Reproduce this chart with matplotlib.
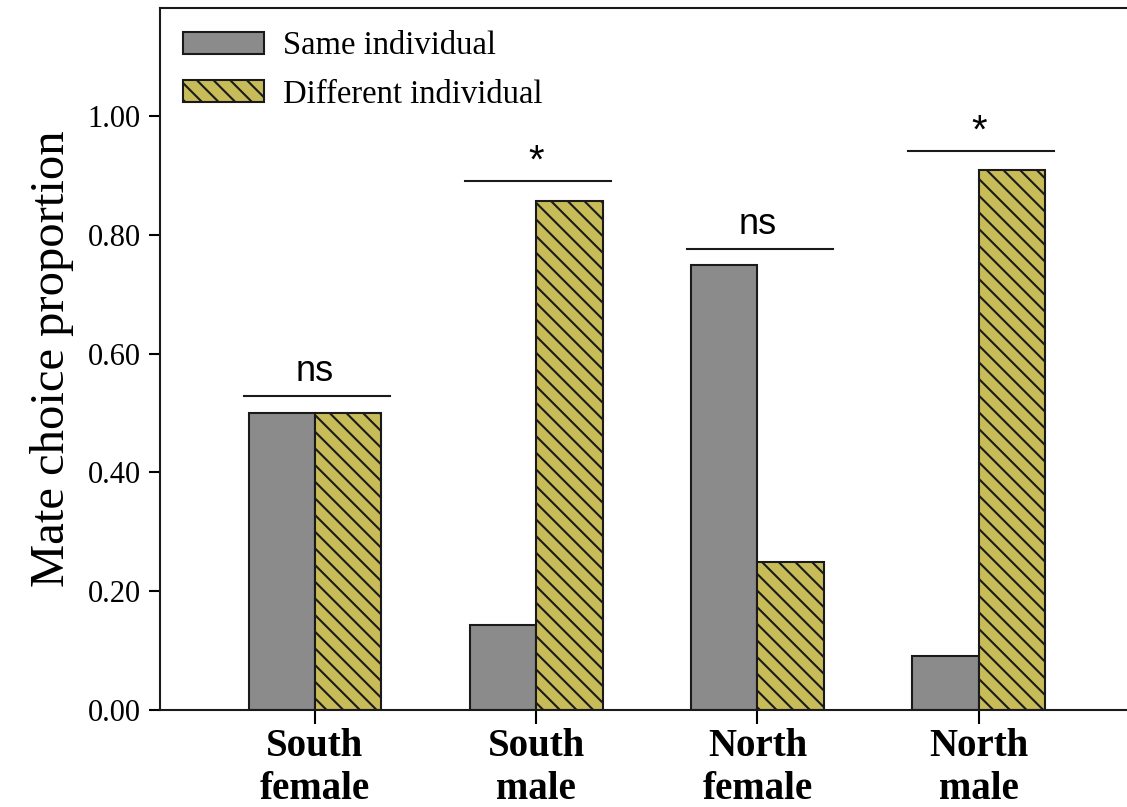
import numpy as np
import matplotlib.pyplot as plt
from matplotlib.patches import Patch

# Data
groups = ["South\nfemale", "South\nmale", "North\nfemale", "North\nmale"]
same_individual = [0.50, 0.143, 0.75, 0.091]
different_individual = [0.50, 0.857, 0.25, 0.909]
sig_labels = ["ns", "*", "ns", "*"]
sig_heights = [0.529, 0.891, 0.776, 0.941]

gray = "#8a8b8a"
olive = "#c7bc57"

plt.rcParams["hatch.linewidth"] = 1.5
plt.rcParams["font.family"] = ["Liberation Serif", "DejaVu Serif"]

fig = plt.figure(figsize=(11.27, 8.07), dpi=100)
ax = fig.add_axes([160 / 1127, 1 - 710 / 807, (1127 - 160) / 1127, 702 / 807])

x = np.arange(len(groups))
w = 0.30
ax.bar(x - w / 2, same_individual, w, color=gray, edgecolor="#1a1a1a", linewidth=1.5)
ax.bar(x + w / 2, different_individual, w, color=olive, edgecolor="#1a1a1a",
       linewidth=1.5, hatch="\\\\")

for xi, lab, h in zip(x, sig_labels, sig_heights):
    ax.plot([xi - 0.32, xi + 0.34], [h, h], color="#1a1a1a", linewidth=1.5)
    if lab == "*":
        ax.text(xi, h + 0.0, lab, ha="center", va="bottom", fontsize=29,
                family="Liberation Sans")
    else:
        ax.text(xi, h + 0.012, lab, ha="center", va="bottom", fontsize=26,
                family="Liberation Sans")

ax.set_xlim(-0.70, 3.67)
ax.set_ylim(0, 1.182)
ax.set_yticks([0, 0.2, 0.4, 0.6, 0.8, 1.0])
ax.set_yticklabels([f"{v:.2f}" for v in [0, 0.2, 0.4, 0.6, 0.8, 1.0]], fontsize=22)
ax.set_xticks(x)
ax.set_xticklabels(groups, fontsize=28, fontweight="bold", linespacing=1.22)
ax.tick_params(axis="y", direction="out", length=8, width=1.5, pad=6)
ax.tick_params(axis="x", direction="out", length=10, width=1.5, pad=3)
ax.set_ylabel("Mate choice proportion", fontsize=35, labelpad=10)

for side in ["left", "top", "bottom"]:
    ax.spines[side].set_linewidth(1.5)
    ax.spines[side].set_color("#1a1a1a")
ax.spines["right"].set_visible(False)

handles = [Patch(facecolor=gray, edgecolor="#1a1a1a", linewidth=1.5),
           Patch(facecolor=olive, edgecolor="#1a1a1a", linewidth=1.5, hatch="\\\\")]
ax.legend(handles, ["Same individual", "Different individual"], loc="upper left",
          bbox_to_anchor=(0.0, 1.0), frameon=False, fontsize=23.5,
          handlelength=2.5, handleheight=0.67, handletextpad=0.58, labelspacing=0.55,
          borderaxespad=0.3, borderpad=0.4)

fig.savefig("out.png", dpi=100)
